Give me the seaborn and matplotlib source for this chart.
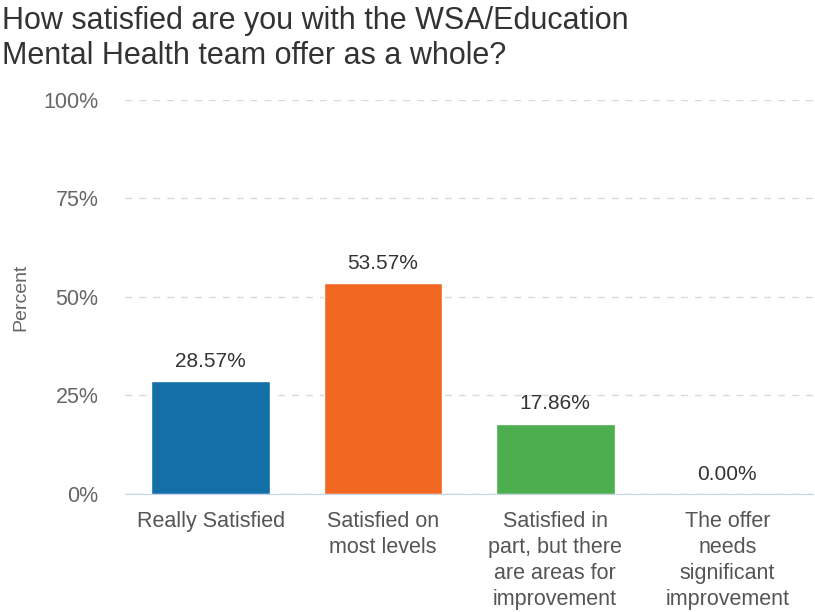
import pandas as pd
import numpy as np
import seaborn as sns
import matplotlib.pyplot as plt

categories = ['Really Satisfied', 'Satisfied on\nmost levels',
              'Satisfied in\npart, but there\nare areas for\nimprovement',
              'The offer\nneeds\nsignificant\nimprovement']
percent = [28.57, 53.57, 17.86, 0.00]
colors = ['#126fa8', '#f26722', '#4cae4f', '#9e9e9e']

df = pd.DataFrame({'category': categories, 'percent': percent})

sns.set_style('white')
plt.rcParams['font.family'] = ['Liberation Sans', 'DejaVu Sans']

fig = plt.figure(figsize=(8.15, 6.12), dpi=100)
ax = fig.add_axes([0.153, 0.193, 0.845, 0.6437])

sns.barplot(data=df, x='category', y='percent', hue='category',
            palette=colors, width=0.69, legend=False, ax=ax, saturation=1)

ax.set_ylim(0, 100)
ax.set_xlim(-0.5, 3.5)
ax.set_yticks([0, 25, 50, 75, 100])
ax.set_yticklabels(['0%', '25%', '50%', '75%', '100%'])
ax.yaxis.grid(True, linestyle=(0, (5, 5)), color='#d9d9d9', linewidth=1)
ax.set_axisbelow(True)
for s in ['top', 'right', 'left']:
    ax.spines[s].set_visible(False)
ax.spines['bottom'].set_color('#c5d3e8')
ax.tick_params(axis='y', length=0, pad=19, labelsize=15.5, labelcolor='#666666')
ax.tick_params(axis='x', length=0, pad=12, labelsize=15.5, labelcolor='#555555')
for lbl in ax.get_xticklabels():
    lbl.set_linespacing(1.33)
ax.set_xlabel('')
ax.set_ylabel('Percent', fontsize=14, color='#666666', labelpad=10)

for i, v in enumerate(percent):
    ax.text(i, v + 2.6, f'{v:.2f}%', ha='center', va='bottom',
            fontsize=15, color='#333333')

fig.text(0.003, 0.99, 'How satisfied are you with the WSA/Education\nMental Health team offer as a whole?',
         ha='left', va='top', fontsize=22, color='#333333', linespacing=1.2)

fig.savefig('out.png', dpi=100)
